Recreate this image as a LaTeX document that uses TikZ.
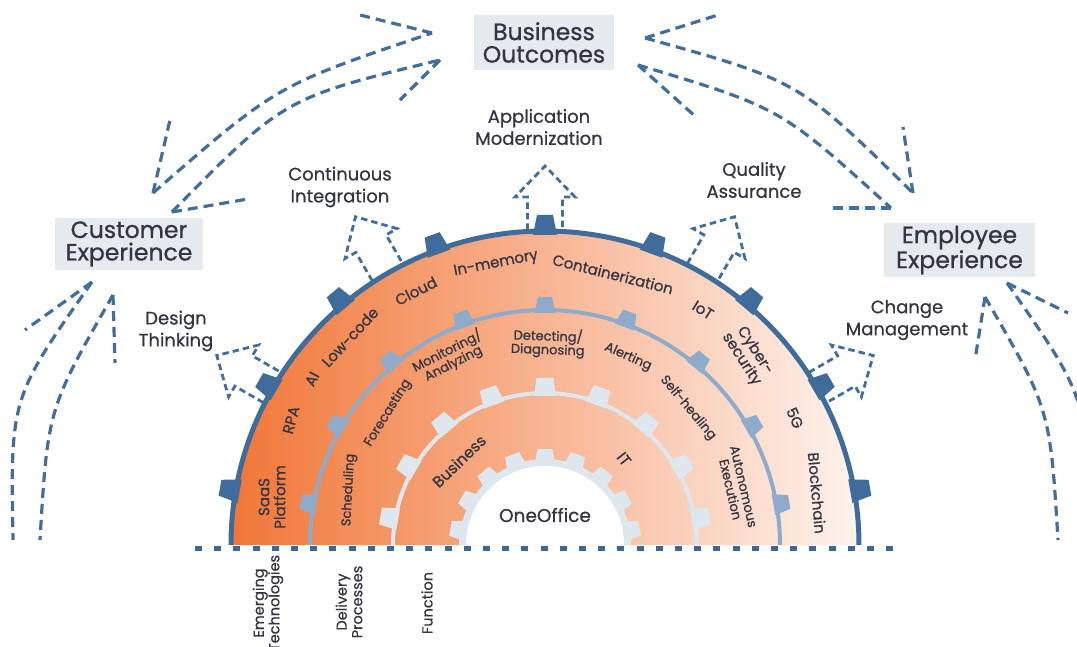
\documentclass[tikz,border=0pt]{standalone}
\usepackage{fontspec}
\setmainfont{Poppins}[FakeBold=0.8]
\begin{document}
\begin{tikzpicture}[x=1pt,y=1pt,
  ink/.style={text={rgb,255:red,52;green,53;blue,66}},
  lbl/.style={ink, align=center, inner sep=0pt},
  goal/.style={lbl, fill={rgb,255:red,228;green,234;blue,238}, font=\fontsize{23.5}{22.5}\selectfont},
  side/.style={lbl, font=\fontsize{18}{22}\selectfont},
  tech/.style={lbl, font=\fontsize{15}{16}\selectfont},
  proc/.style={lbl, font=\fontsize{13}{13.5}\selectfont},
  func/.style={lbl, font=\fontsize{15.5}{16}\selectfont},
  axislbl/.style={lbl, font=\fontsize{14.5}{15.5}\selectfont, rotate=90},
  flow/.style={draw={rgb,255:red,66;green,110;blue,158}, line width=3.2pt, dash pattern=on 10pt off 6pt},
  house/.style={draw={rgb,255:red,66;green,110;blue,158}, line width=2.8pt, dash pattern=on 6.5pt off 4pt, line join=miter},
]
\definecolor{ringdark}{RGB}{63,108,155}
\definecolor{ringmid}{RGB}{143,171,204}
\definecolor{gearlight}{RGB}{222,231,237}
\definecolor{orangeL}{RGB}{241,118,55}
\definecolor{orangeR}{RGB}{254,243,238}
\definecolor{dotblue}{RGB}{60,104,152}

\useasboundingbox (-545,-101) rectangle (532,545);

% --- filled half disc with left-to-right gradient ---
\shade[left color=orangeL, right color=orangeR] (-314,0) arc (180:0:314) -- cycle;

% --- outer ring: emerging technologies ---
\foreach \a in {10,30,...,170}
  \fill[ringdark, rotate=\a-90] (-12,310) -- (-8,330) -- (8,330) -- (12,310) -- cycle;
\draw[ringdark, line width=5pt] (-314,0) arc (180:0:314);

% --- middle ring: delivery processes ---
\foreach \a in {10,30,...,170}
  \fill[ringmid, rotate=\a-90] (-10.5,232) -- (-7,248) -- (7,248) -- (10.5,232) -- cycle;
\draw[ringmid, line width=4pt] (-235,0) arc (180:0:235);

% --- inner gear: function ---
\foreach \a in {10,30,...,170}
  \fill[gearlight, rotate=\a-90] (-11,149) -- (-8.5,167) -- (8.5,167) -- (11,149) -- cycle;
\draw[gearlight, line width=4pt] (-152,0) arc (180:0:152);

% --- centre gear ---
\begin{scope}
  \clip (-120,0) rectangle (120,120);
  \foreach \a in {10,30,...,170}
    \fill[gearlight, rotate=\a-90] (-10,82) -- (-7.5,96) -- (7.5,96) -- (10,82) -- cycle;
  \fill[gearlight] (-86,0) arc (180:0:86) -- cycle;
  \fill[white] (-79,0) arc (180:0:79) -- cycle;
\end{scope}
\node[lbl, font=\fontsize{18.5}{18}\selectfont] (core) at (0,30) {OneOffice};

% --- base line ---
\draw[dotblue, line width=5pt, dash pattern=on 7pt off 12.2pt] (-350,-3) -- (352,-3);

% --- outward arrows on the outer ring ---
\foreach \a in {30,60,90,120,150}
  \draw[house, rotate=\a-90] (-17.5,315) -- (-17.5,348) -- (-30,348) -- (0,379) -- (30,348) -- (17.5,348) -- (17.5,315);

% --- goal boxes ---
\node[goal, minimum width=140pt, minimum height=55pt] (bo) at (-1,502.5) {Business\\Outcomes};
\node[goal, minimum width=148pt, minimum height=52pt] (cx) at (-416,301) {Customer\\Experience};
\node[goal, minimum width=151pt, minimum height=54pt] (ex) at (414.5,295) {Employee\\Experience};

% --- practice labels ---
\node[side] (am) at (-6,418) {Application\\Modernization};
\node[side] (ci) at (-205,358) {Continuous\\Integration};
\node[side] (qa) at (209,365) {Quality\\Assurance};
\node[side] (dt) at (-369,214) {Design\\Thinking};
\node[side] (cm) at (362,225) {Change\\Management};

% --- ring labels: technologies ---
\node[tech, rotate=90]  (t1)  at (-273,48)  {SaaS\\Platform};
\node[tech, rotate=75]  (t2)  at (-254,125) {RPA};
\node[tech, rotate=62]  (t3)  at (-233,166) {AI};
\node[tech, rotate=47]  (t4)  at (-195,208) {Low-code};
\node[tech, rotate=27]  (t5)  at (-129,254) {Cloud};
\node[tech, rotate=11]  (t6)  at (-49,281)  {In-memory};
\node[tech, rotate=-14] (t7)  at (68,271)   {Containerization};
\node[tech, rotate=-32] (t8)  at (158,235)  {IoT};
\node[tech, rotate=-57] (t9)  at (203,190)  {Cyber-\\security};
\node[tech, rotate=-66] (t10) at (250,127)  {5G};
\node[tech, rotate=-85] (t11) at (272,52)   {Blockchain};

% --- ring labels: processes ---
\node[proc, rotate=87]  (p1) at (-196,55)  {Scheduling};
\node[proc, rotate=58]  (p2) at (-157,132) {Forecasting};
\node[proc, rotate=27]  (p3) at (-95,188)  {Monitoring/\\Analyzing};
\node[proc, rotate=-2]  (p4) at (3,202)    {Detecting/\\Diagnosing};
\node[proc, rotate=-24] (p5) at (83,188)   {Alerting};
\node[proc, rotate=-50] (p6) at (143,137)  {Self-healing};
\node[proc, rotate=-77] (p7) at (192,57)   {Autonomous\\Execution};

% --- ring labels: function ---
\node[func, rotate=44]  (f1) at (-86,84) {Business};
\node[func, rotate=-52] (f2) at (79,86)  {IT};

% --- layer names under the base line ---
\node[axislbl] (l1) at (-277,-58) {Emerging\\Technologies};
\node[axislbl] (l2) at (-196,-57) {Delivery\\Processes};
\node[axislbl] (l3) at (-118,-58) {Function};

% --- flow end points ---
\coordinate (cxA) at (-392,352);  \coordinate (boA) at (-113,512);
\coordinate (cxB) at (-373,333);  \coordinate (boB) at (-105,485);
\coordinate (boC) at (100,507);   \coordinate (exA) at (368,352);
\coordinate (boD) at (93,480);    \coordinate (exB) at (346,337);
\coordinate (cxC) at (-453,263);  \coordinate (cxD) at (-432,250);
\coordinate (exC) at (440,248);   \coordinate (exD) at (462,262);
\coordinate (lo1) at (-532,5);    \coordinate (lo2) at (-505,5);
\coordinate (ro1) at (513,5);     \coordinate (ro2) at (545,5);

% customer <-> business outcomes
\draw[flow] (cxA) .. controls (-268.4,459.7) .. (boA);
\draw[flow] (cxA) -- ++(17,73);
\draw[flow] (boA) -- ++(-72,18);
\draw[flow] (cxB) .. controls (-261,447) .. (boB);
\draw[flow] (cxB) -- ++(76,13);
\draw[flow] (boB) -- ++(-40,-40);

% business outcomes <-> employee
\draw[flow] (boC) .. controls (254,464.1) .. (exA);
\draw[flow] (boC) -- ++(73,23);
\draw[flow] (exA) -- ++(-10,66);
\draw[flow] (boD) .. controls (235.7,437.2) .. (exB);
\draw[flow] (boD) -- ++(58,-52);
\draw[flow] (exB) -- ++(-64,0);

% rising flows at the sides
\begin{scope}
  \clip (-545,-101) rectangle (532,545);
  \draw[flow] (cxC) .. controls (-534.6,147) .. (lo1);
  \draw[flow] (cxC) -- ++(-67,-48);
  \draw[flow] (cxD) .. controls (-497.2,136) .. (lo2);
  \draw[flow] (cxD) -- ++(2,-68);
  \draw[flow] (exC) .. controls (505,136) .. (ro1);
  \draw[flow] (exC) -- ++(-10,-63);
  \draw[flow] (exD) .. controls (542.6,147) .. (ro2);
  \draw[flow] (exD) -- ++(61,-30);
\end{scope}
\end{tikzpicture}
\end{document}
